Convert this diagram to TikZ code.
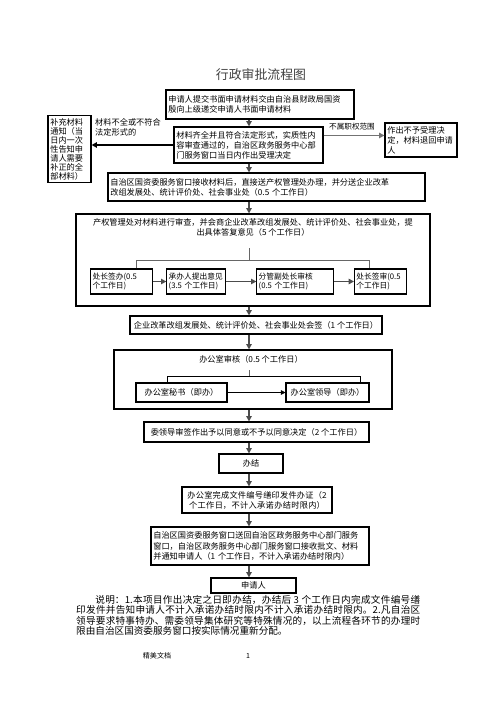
\documentclass[tikz,border=0pt]{standalone}
\usepackage{fontspec}
\setmainfont{Noto Sans CJK SC}
\XeTeXlinebreaklocale "zh"
\XeTeXlinebreakskip=0pt plus 1pt
\usetikzlibrary{
  arrows.meta,
  positioning,
}
\tikzset{
  box/.style={
    rectangle,
    draw=black,
    line width=0.9pt,
    inner sep=2pt,
    align=left,
    font=\fontsize{7}{8.6}\selectfont
  },
  cbox/.style={
    box,
    align=center
  },
  subbox/.style={
    box,
    inner sep=1.5pt,
    minimum height=0.75cm,
    font=\fontsize{6.6}{8.4}\selectfont
  },
  frame/.style={
    rectangle,
    draw=black,
    line width=0.9pt,
    inner sep=0pt
  },
  label/.style={
    inner sep=0pt,
    align=left,
    font=\fontsize{7}{8.6}\selectfont
  },
  flow/.style={
    draw=black!70,
    line width=1.5pt,
    -{Triangle[length=1.6mm,width=1.6mm]},
  },
  link/.style={
    draw=black,
    line width=0.6pt,
  },
  note/.style={
    inner sep=0pt,
    text width=10.32cm,
    align=justify,
    font=\fontsize{8.2}{8.9}\selectfont
  },
}

\begin{document}
\begin{tikzpicture}[x=0.03cm, y=-0.03cm]

  \useasboundingbox (0,0) rectangle (496,702);
  \coordinate (spine) at (249,0);

  \node[font=\fontsize{11}{13}\selectfont, text=black!75] (title) at (261,75) {行政审批流程图};

  % receiving the application
  \node[box, text width=5.50cm, minimum height=0.87cm] (apply) at (260,104.5)
    {申请人提交书面申请材料交由自治县财政局国资\\殷向上级递交申请人书面申请材料};
  \node[box, text width=4.33cm, minimum height=1.08cm] (accept) at (248.5,145)
    {材料齐全并且符合法定形式，实质性内\\容审查通过的，自治区政务服务中心部\\门服务窗口当日内作出受理决定};
  \node[box, text width=1.15cm, minimum height=1.92cm, font=\fontsize{7}{7.7}\selectfont] (notice) at (69.5,149)
    {补充材料\\通知（当\\日内一次\\性告知申\\请人需要\\补正的全\\部材料）};
  \node[box, text width=2.02cm, minimum height=1.02cm] (reject) at (421,140)
    {作出不予受理决\\定，材料退回申请\\人};
  \node[label, anchor=north west] (lackmsg) at (95,118) {材料不全或不符合\\法定形式的};
  \node[label, font=\fontsize{6.5}{8}\selectfont] (outmsg) at (352,127) {不属职权范围};

  \node[box, text width=9.37cm, minimum height=0.84cm] (window) at (266.5,187)
    {自治区国资委服务窗口接收材料后，直接送产权管理处办理，并分送企业改革\\改组发展处、统计评价处、社会事业处（0.5 个工作日）};

  % property rights office
  \node[frame, minimum width=10.62cm, minimum height=2.76cm] (review) at (253,260) {};
  \node[label, align=center] (reviewhead) at (253,227)
    {产权管理处对材料进行审查，并会商企业改革改组发展处、统计评价处、社会事业处，提\\出具体答复意见（5 个工作日）};
  \node[subbox, text width=1.73cm] (sign) at (121.5,281.5) {处长签办(0.5\\个工作日)};
  \node[subbox, text width=1.64cm] (propose) at (196,281.5) {承办人提出意见\\(3.5 个工作日)};
  \node[subbox, text width=2.18cm] (deputy) at (295,281.5) {分管副处长审核\\(0.5 个工作日)};
  \node[subbox, text width=1.45cm] (chief) at (380.5,281.5) {处长签审(0.5\\个工作日)};
  \coordinate (stubR) at (249,248);
  \coordinate (forkL) at (136,260);
  \coordinate (forkR) at (369,260);

  \node[cbox, minimum width=7.56cm, minimum height=0.54cm] (cosign) at (256,325)
    {企业改革改组发展处、统计评价处、社会事业处会签（1 个工作日）};

  % general office
  \node[frame, minimum width=8.34cm, minimum height=1.77cm] (office) at (253,379.5) {};
  \node[label] (officehead) at (251,359) {办公室审核（0.5 个工作日）};
  \node[cbox, minimum width=2.73cm, minimum height=0.57cm] (secretary) at (181.5,392.5) {办公室秘书（即办）};
  \node[cbox, minimum width=2.49cm, minimum height=0.57cm] (leader) at (327.5,392.5) {办公室领导（即办）};
  \coordinate (stubO) at (249,370);
  \coordinate (forkA) at (167,376);
  \coordinate (forkB) at (360,376);

  \node[cbox, minimum width=6.75cm, minimum height=0.6cm] (decide) at (256.5,432)
    {委领导审签作出予以同意或不予以同意决定（2 个工作日）};
  \node[cbox, minimum width=1.92cm, minimum height=0.57cm] (done) at (251,463.5) {办结};
  \node[cbox, text width=4.36cm, minimum height=0.78cm] (print) at (257,500)
    {办公室完成文件编号缮印发件办证（2\\个工作日，不计入承诺办结时限内）};
  \node[box, text width=6.40cm, minimum height=1.14cm] (return) at (260,546)
    {自治区国资委服务窗口送回自治区政务服务中心部门服务\\窗口，自治区政务服务中心部门服务窗口接收批文、材料\\并通知申请人（1 个工作日，不计入承诺办结时限内）};
  \node[cbox, minimum width=2.55cm, minimum height=0.45cm] (applicant) at (253.5,585.5) {申请人};

  % main flow
  \draw[flow] (apply.south -| spine) -- (accept.north -| spine);
  \draw[flow, draw=black] (accept.west) -- (accept.west -| notice.east);
  \draw[flow, draw=black!55] ([yshift=-0.27cm]accept.north east) -- ([yshift=-0.27cm]accept.north east -| reject.west);
  \draw[flow] (accept.south -| spine) -- (window.north -| spine);
  \draw[flow] (window.south -| spine) -- (review.north -| spine);
  \draw[link, draw=black!60] (stubR) -- (forkL -| spine);
  \draw[link, draw=black!60] (forkL |- sign.north) -- (forkL) -- (forkR) -- (forkR |- chief.north);
  \draw[flow] (sign) -- (propose);
  \draw[flow] (propose) -- (deputy);
  \draw[flow] (deputy) -- (chief);
  \draw[flow] (review.south -| spine) -- (cosign.north -| spine);
  \draw[flow] (cosign.south -| spine) -- (office.north -| spine);
  \draw[link, draw=black!60] (stubO) -- (forkA -| spine);
  \draw[link] (forkA |- secretary.north) -- (forkA) -- (forkB) -- (forkB |- leader.north);
  \draw[link, -{Triangle[length=1.4mm,width=1.4mm]}] (secretary) -- (leader);
  \draw[flow] (office.south -| spine) -- (decide.north -| spine);
  \draw[flow] (decide.south -| spine) -- (done.north -| spine);
  \draw[flow] (done.south -| spine) -- (print.north -| spine);
  \draw[flow] (print.south -| spine) -- (return.north -| spine);
  \draw[flow] (return.south -| spine) -- (applicant.north -| spine);

  % remarks
  \node[note, anchor=north west] (remark) at (76,595)
    {\hspace*{2em}说明：1.本项目作出决定之日即办结，办结后 3 个工作日内完成文件编号缮\linebreak 印发件并告知申请人不计入承诺办结时限内不计入承诺办结时限内。2.凡自治区\linebreak 领导要求特事特办、需委领导集体研究等特殊情况的，以上流程各环节的办理时\linebreak 限由自治区国资委服务窗口按实际情况重新分配。};

  \node[font=\fontsize{6}{7}\selectfont] (docname) at (157,656) {精美文档};
  \node[font=\fontsize{6}{7}\selectfont] (pageno) at (248,656) {1};

\end{tikzpicture}
\end{document}
